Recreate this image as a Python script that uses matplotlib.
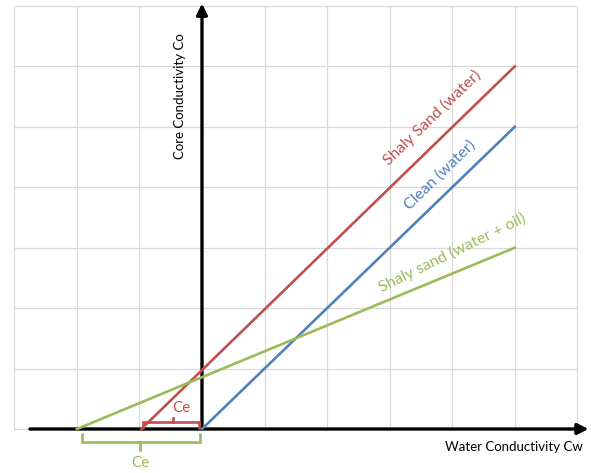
import matplotlib
matplotlib.use('Agg')
import matplotlib.pyplot as plt
from matplotlib.path import Path
from matplotlib.patches import PathPatch

plt.rcParams['font.family'] = ['Lato', 'DejaVu Sans']

# data (grid units, origin at the axes cross)
shaly_water_cw = [-0.97, 5]
shaly_water_co = [0, 6]
clean_cw = [0, 5]
clean_co = [0, 5]
shaly_oil_cw = [-2, 5]
shaly_oil_co = [0, 3]

grid_x = list(range(-3, 7))
grid_y = list(range(0, 8))

red = '#C0504D'
blue = '#4F81BD'
green = '#9BBB59'

fig = plt.figure(figsize=(5.91, 4.73), dpi=100)
ax = fig.add_axes([0, 0, 1, 1])
ax.set_xlim(-3.229, 6.219)
ax.set_ylim(-0.728, 7.099)
ax.axis('off')

# light grid
ax.vlines(grid_x, grid_y[0], grid_y[-1], color='#DADADA', lw=0.9, zorder=0)
ax.hlines(grid_y, grid_x[0], grid_x[-1], color='#DADADA', lw=0.9, zorder=0)

# axes with arrows
ax.annotate('', xy=(6.18, 0), xytext=(-2.75, 0),
            arrowprops=dict(arrowstyle='-|>', lw=2.4, color='black', mutation_scale=16, shrinkA=0, shrinkB=0))
ax.annotate('', xy=(0, 7.04), xytext=(0, 0),
            arrowprops=dict(arrowstyle='-|>', lw=2.4, color='black', mutation_scale=16, shrinkA=0, shrinkB=0))

# lines
ax.plot(shaly_water_cw, shaly_water_co, color=red, lw=1.9, zorder=3)
ax.plot(clean_cw, clean_co, color=blue, lw=1.9, zorder=3)
ax.plot(shaly_oil_cw, shaly_oil_co, color=green, lw=1.9, zorder=3)

# brackets for Ce
def bracket(x0, x1, y0, y1, ytip, xtip, color):
    verts = [(x0, y0), (x0, y1), (x1, y1), (x1, y0)]
    ax.add_patch(PathPatch(Path(verts), fill=False, edgecolor=color, lw=1.9, zorder=4))
    ax.plot([xtip, xtip], [y1, ytip], color=color, lw=1.9, zorder=4)

bracket(-0.95, -0.04, 0.0, 0.11, 0.19, -0.46, red)
bracket(-1.92, -0.03, -0.07, -0.22, -0.35, -0.99, green)

ax.text(-0.33, 0.35, 'Ce', color=red, fontsize=11, ha='center', va='center')
ax.text(-0.99, -0.56, 'Ce', color=green, fontsize=11, ha='center', va='center')

# axis titles
ax.text(-0.352, 5.51, 'Core Conductivity Co', rotation=90, fontsize=9.5,
        ha='center', va='center')
ax.text(6.09, -0.30, 'Water Conductivity Cw', fontsize=9.5, ha='right', va='center')

# line labels
ax.text(3.68, 5.15, 'Shaly Sand (water)', color=red, fontsize=11.5, rotation=44,
        ha='center', va='center', rotation_mode='anchor')
ax.text(3.80, 4.20, 'Clean (water)', color=blue, fontsize=11.5, rotation=44,
        ha='center', va='center', rotation_mode='anchor')
ax.text(4.00, 2.91, 'Shaly sand (water + oil)', color=green, fontsize=11.5, rotation=26,
        ha='center', va='center', rotation_mode='anchor')

fig.savefig('out.png', dpi=100)
